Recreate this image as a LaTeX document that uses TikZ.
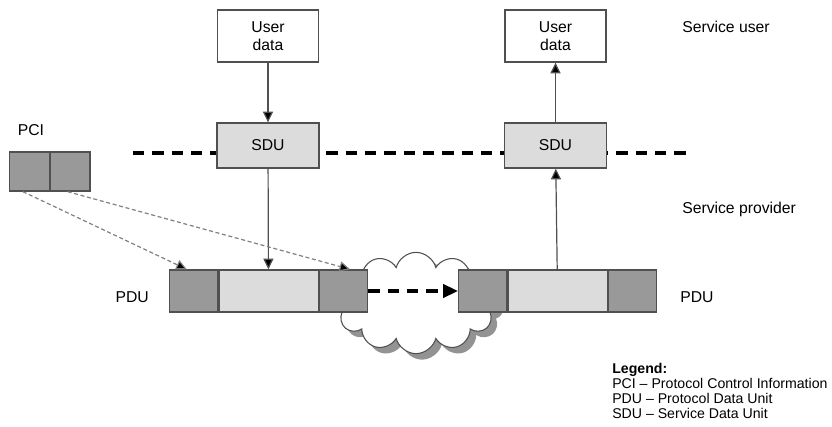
\documentclass[tikz,border=0pt]{standalone}
\usepackage{fontspec}
\setmainfont{Liberation Sans}
\usetikzlibrary{positioning,arrows.meta,shapes.symbols,shadows}

\definecolor{pcigray}{HTML}{999999}
\definecolor{sdugray}{HTML}{DCDCDC}
\definecolor{edgegray}{HTML}{505050}

\tikzset{
  userbox/.style={draw=edgegray,fill=white,line width=1pt,minimum width=75.75pt,minimum height=39pt,align=center,inner sep=0pt},
  sdubox/.style={draw=edgegray,fill=sdugray,line width=1pt,minimum width=76.5pt,minimum height=33.75pt,inner sep=0pt},
  pcibox/.style={draw=edgegray,fill=pcigray,line width=1pt,minimum width=36pt,minimum height=31.5pt,inner sep=0pt},
  databox/.style={draw=edgegray,fill=sdugray,line width=1pt,minimum width=74.5pt,minimum height=31.5pt,inner sep=0pt},
  flow/.style={draw=edgegray,line width=0.9pt,-{Triangle[length=8pt,width=7.5pt,fill=black]}},
  pcilink/.style={draw=gray,line width=0.9pt,dash pattern=on 3pt off 2pt,-{Triangle[length=8pt,width=7.5pt,fill=black]}},
  lbl/.style={font=\fontsize{11.8}{13.5}\selectfont,inner sep=0pt}
}

\begin{document}
\begin{tikzpicture}[x=0.75pt,y=-0.75pt]
\useasboundingbox (0,0) rectangle (832,427);

% Cloud
\node[cloud,cloud puffs=12,aspect=1.6,draw=edgegray,fill=white,line width=0.8pt,
  minimum width=122pt,minimum height=76pt,
  drop shadow={shadow xshift=4.5pt,shadow yshift=-4.5pt,fill=gray!85,opacity=1}] (cloud) at (416,303) {};

% Service boundary
\coordinate (bl) at (133,153);
\coordinate (br) at (686,153);
\draw[line width=2.3pt,dash pattern=on 8.5pt off 6pt] (bl) -- (br);

% User data and SDU
\node[userbox,lbl] (udl) at (268,36) {User\\data};
\node[userbox,lbl] (udr) at (555.5,36) {User\\data};
\node[sdubox,lbl] (sdul) at (268,145.5) {SDU};
\node[sdubox,lbl] (sdur) at (555.5,145.5) {SDU};

% PCI
\node[draw=edgegray,fill=pcigray,line width=1pt,minimum width=29.6pt,minimum height=29.25pt,inner sep=0pt] (pcia) at (29.5,171.5) {};
\node[draw=edgegray,fill=pcigray,line width=1pt,minimum width=29.6pt,minimum height=29.25pt,inner sep=0pt,right=0pt of pcia] (pcib) {};
\node[lbl] (pcilbl) at (31,130) {PCI};

% PDU left
\node[pcibox] (hdl) at (193.5,291) {};
\node[databox,right=0pt of hdl] (datal) {};
\node[pcibox,right=0pt of datal] (trl) {};

% PDU right
\node[pcibox] (hdr) at (482.5,291) {};
\node[databox,right=0pt of hdr] (datar) {};
\node[pcibox,right=0pt of datar] (trr) {};

% Connectors
\draw[flow] (udl) -- (sdul);
\draw[flow] (sdul) -- (datal);
\draw[flow] (datar) -- (sdur);
\draw[flow] (sdur) -- (udr);
\draw[line width=2.3pt,dash pattern=on 8.5pt off 6pt,-{Triangle[length=11pt,width=10pt]}] (trl) -- (hdr);
\draw[pcilink] ([xshift=-5pt]pcia.south) -- ([xshift=-5pt]hdl.north);
\draw[pcilink] ([xshift=-2pt]pcib.south) -- ([xshift=5pt]trl.north);

% Labels
\node[lbl,anchor=west] (suser) at (682,27) {Service user};
\node[lbl,anchor=west] (sprov) at (682,209) {Service provider};
\node[lbl,anchor=east] (pdul) at (149,297) {PDU};
\node[lbl,anchor=west] (pdur) at (680,297) {PDU};

% Legend
\node[anchor=north west,align=left,inner sep=0pt,font=\fontsize{10.6}{11.3}\selectfont] (legend) at (612,363)
  {\textbf{Legend:}\\PCI -- Protocol Control Information\\PDU -- Protocol Data Unit\\SDU -- Service Data Unit};

\end{tikzpicture}
\end{document}
